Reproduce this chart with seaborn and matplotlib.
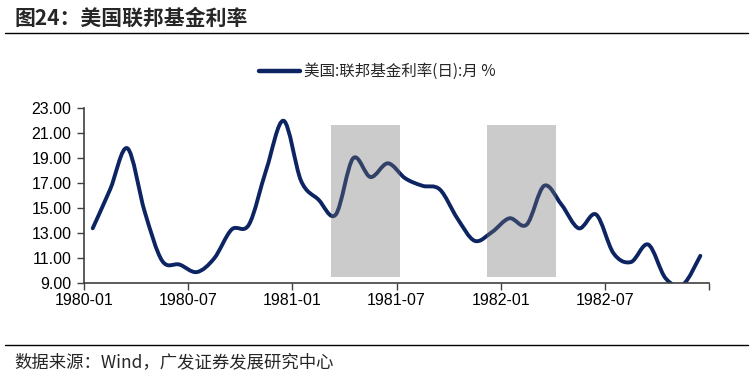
import pandas as pd
import seaborn as sns
import matplotlib.pyplot as plt
from matplotlib.patches import Rectangle, PathPatch
from matplotlib.path import Path
from matplotlib.lines import Line2D

# monthly fed funds rate, 1980-01 .. 1982-12
months = pd.date_range("1980-01", periods=36, freq="MS").strftime("%Y-%m").tolist()
rate = [13.4, 16.5, 19.8, 14.7, 10.8, 10.5, 9.9, 11.0, 13.3, 13.7, 18.1, 22.0,
        17.2, 15.7, 14.5, 19.0, 17.5, 18.6, 17.4, 16.8, 16.5, 14.2, 12.4, 13.1,
        14.2, 13.7, 16.8, 15.3, 13.4, 14.5, 11.4, 10.7, 12.1, 9.4, 8.9, 11.2]
tick_labels = ["1980-01", "1980-07", "1981-01", "1981-07", "1982-01", "1982-07", ""]
# shaded periods (month index)
shade_start = [13.7, 22.7]
shade_end = [17.7, 26.7]

data = pd.DataFrame({"month": months, "rate": rate})
data["idx"] = range(len(data))

sns.set_theme(style="white")
plt.rcParams["font.family"] = ["Liberation Sans", "Noto Sans CJK SC", "DejaVu Sans"]
navy = "#0c2461"

fig = plt.figure(figsize=(7.53, 3.78), dpi=100)
ax = fig.add_axes([0.1116, 0.2505, 0.8300, 0.4630])

sns.lineplot(data=data, x="idx", y="rate", color=navy, linewidth=2.8, ax=ax)

# smooth the seaborn polyline like an Excel "smoothed line" (Bezier through the points)
base = ax.lines[0]
pts = base.get_xydata()
verts = [tuple(pts[0])]
codes = [Path.MOVETO]
n = len(pts)
for i in range(n - 1):
    p0 = pts[max(i - 1, 0)]
    p1 = pts[i]
    p2 = pts[i + 1]
    p3 = pts[min(i + 2, n - 1)]
    c1 = p1 + (p2 - p0) / 6
    c2 = p2 - (p3 - p1) / 6
    verts += [tuple(c1), tuple(c2), tuple(p2)]
    codes += [Path.CURVE4] * 3
ax.add_patch(PathPatch(Path(verts, codes), facecolor="none", edgecolor=navy,
                       linewidth=2.8, capstyle="round", joinstyle="round", zorder=2))
base.set_visible(False)

for s, e in zip(shade_start, shade_end):
    ax.add_patch(Rectangle((s, 9.48), e - s, 21.7 - 9.48, facecolor="#737373",
                           alpha=0.37, edgecolor="none", zorder=3))

ax.set_xlim(-0.5, 35.5)
ax.set_ylim(9, 23)
ax.set_xticks([-0.5 + 6 * i for i in range(7)])
ax.set_xticklabels(tick_labels)
ax.set_yticks(range(9, 24, 2))
ax.set_yticklabels([f"{v:.2f}" for v in range(9, 24, 2)])
ax.set_xlabel("")
ax.set_ylabel("")
ax.tick_params(axis="both", labelsize=11.5, colors="#404040", length=5, width=1,
               direction="out")
ax.tick_params(axis="both", labelcolor="black")
ax.tick_params(axis="x", bottom=True, pad=2)
ax.tick_params(axis="y", left=True, pad=4)
sns.despine(ax=ax)
for sp in ["left", "bottom"]:
    ax.spines[sp].set_color("#404040")
    ax.spines[sp].set_linewidth(1.2)

handle = Line2D([], [], color=navy, linewidth=3.2)
fig.legend([handle], ["美国:联邦基金利率(日):月 %"], loc="center",
           bbox_to_anchor=(0.501, 0.81), frameon=False, handlelength=2.6,
           handletextpad=0.25, prop={"family": ["Noto Sans CJK SC"], "size": 11.2})

fig.text(0.019, 0.952, "图24：美国联邦基金利率", fontsize=15, fontweight="bold",
         family=["Noto Sans CJK SC"], va="center")
fig.add_artist(Line2D([0.007, 0.993], [0.912, 0.912], color="black", linewidth=1))
fig.add_artist(Line2D([0.007, 0.993], [0.087, 0.087], color="black", linewidth=1))
fig.text(0.019, 0.043, "数据来源：Wind，广发证券发展研究中心", fontsize=12.5,
         family=["Noto Sans CJK SC"], va="center")

plt.savefig("out.png", dpi=100)
